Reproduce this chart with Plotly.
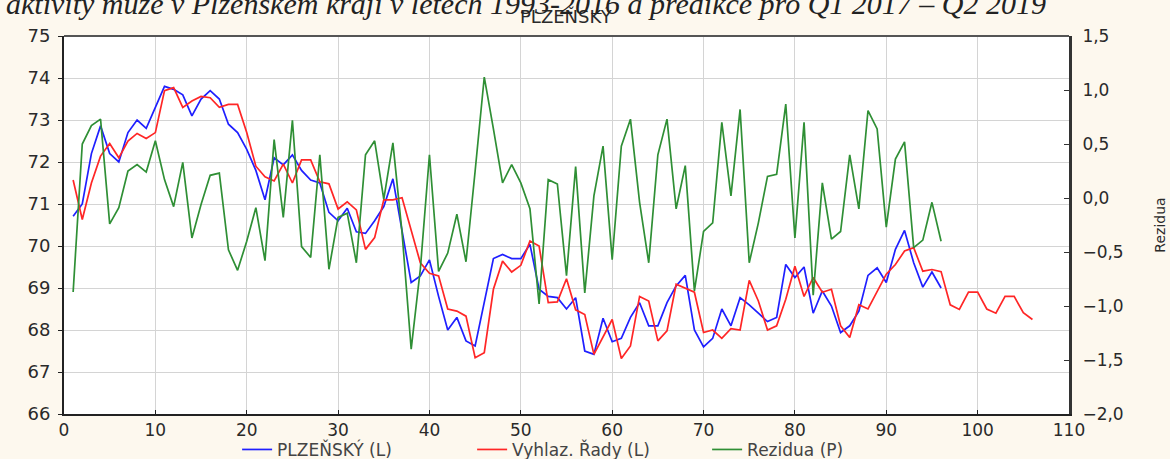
import plotly.graph_objects as go

# Participation rate, Plzeň region: observed series, smoothed series (with forecast) and residuals
t_obs = list(range(1, 97))
t_smooth = list(range(1, 107))

plzensky = [
    70.71, 71.0, 72.2, 72.86, 72.2, 72.0, 72.7, 73.0, 72.8, 73.3,
    73.8, 73.73, 73.6, 73.1, 73.5, 73.7, 73.5, 72.9, 72.7, 72.3,
    71.8, 71.1, 72.1, 71.93, 72.17, 71.8, 71.57, 71.5, 70.8, 70.6,
    70.9, 70.34, 70.3, 70.6, 70.94, 71.6, 70.4, 69.13, 69.29, 69.67,
    68.8, 68.0, 68.3, 67.74, 67.62, 68.65, 69.7, 69.8, 69.7, 69.7,
    70.04, 68.97, 68.8, 68.77, 68.5, 68.77, 67.5, 67.42, 68.28, 67.72,
    67.8, 68.3, 68.65, 68.1, 68.1, 68.65, 69.05, 69.3, 68.0, 67.6,
    67.8, 68.5, 68.1, 68.77, 68.6, 68.4, 68.2, 68.3, 69.56, 69.25,
    69.5, 68.4, 68.93, 68.57, 67.94, 68.1, 68.45, 69.3, 69.48, 69.13,
    69.92, 70.37, 69.6, 69.02, 69.38, 69.0,
]

vyhlazene = [
    71.57, 70.63, 71.5, 72.14, 72.44, 72.1, 72.5, 72.68, 72.56, 72.7,
    73.7, 73.77, 73.3, 73.45, 73.56, 73.53, 73.3, 73.37, 73.37, 72.7,
    71.9, 71.65, 71.55, 71.95, 71.5, 72.05, 72.05, 71.53, 71.48, 70.88,
    71.05, 70.86, 69.92, 70.2, 71.1, 71.1, 71.15, 70.4, 69.6, 69.35,
    69.29, 68.5, 68.45, 68.33, 67.34, 67.46, 68.97, 69.64, 69.38, 69.54,
    70.12, 70.0, 68.65, 68.67, 69.22, 68.48, 68.37, 67.42, 67.82, 68.25,
    67.32, 67.62, 68.8, 68.69, 67.74, 67.98, 69.09, 69.0, 68.9, 67.94,
    68.0, 67.8, 68.03, 68.0, 69.18, 68.69, 68.0, 68.1, 68.73, 69.52,
    68.8, 69.25, 68.9, 68.97, 68.1, 67.82, 68.6, 68.5, 68.9, 69.33,
    69.56, 69.88, 69.96, 69.4, 69.44, 69.39, 68.6, 68.49, 68.9, 68.9,
    68.5, 68.4, 68.8, 68.8, 68.41, 68.25,
]

rezidua = [
    -0.87, 0.5, 0.67, 0.73, -0.24, -0.09, 0.25, 0.31, 0.24, 0.53,
    0.17, -0.08, 0.33, -0.37, -0.06, 0.21, 0.23, -0.48, -0.67, -0.4,
    -0.09, -0.58, 0.54, -0.18, 0.72, -0.45, -0.55, 0.4, -0.66, -0.18,
    -0.14, -0.6, 0.4, 0.53, -0.01, 0.51, -0.32, -1.4, -0.66, 0.4,
    -0.68, -0.51, -0.15, -0.59, 0.25, 1.12, 0.64, 0.14, 0.31, 0.14,
    -0.1, -0.98, 0.17, 0.13, -0.72, 0.29, -0.88, 0.02, 0.48, -0.57,
    0.48, 0.73, -0.04, -0.6, 0.4, 0.73, -0.1, 0.3, -0.86, -0.31,
    -0.23, 0.7, 0.02, 0.82, -0.6, -0.23, 0.2, 0.22, 0.87, -0.37,
    0.7, -0.9, 0.14, -0.38, -0.31, 0.4, -0.1, 0.81, 0.64, -0.27,
    0.36, 0.52, -0.46, -0.39, -0.04, -0.4,
]

left_ticks = list(range(66, 76))
right_ticks = [-2.0, -1.5, -1.0, -0.5, 0.0, 0.5, 1.0, 1.5]
x_ticks = list(range(0, 111, 10))

FONT = "DejaVu Sans"
TXT = "#2a2a2a"
TICKFONT = dict(family=FONT, size=17, color=TXT)

fig = go.Figure()
fig.add_trace(go.Scatter(
    x=t_obs, y=plzensky, mode="lines", name="PLZEŇSKÝ (L)",
    line=dict(color="#1f1fff", width=1.7),
))
fig.add_trace(go.Scatter(
    x=t_smooth, y=vyhlazene, mode="lines", name="Vyhlaz. Řady (L)",
    line=dict(color="#ff2626", width=1.7),
))
fig.add_trace(go.Scatter(
    x=t_obs, y=rezidua, mode="lines", name="Rezidua (P)", yaxis="y2",
    line=dict(color="#2f8f35", width=1.7),
))

fig.update_layout(
    width=1170, height=459,
    margin=dict(l=64, r=101, t=36, b=45, autoexpand=False),
    paper_bgcolor="#fdf8ee",
    plot_bgcolor="#ffffff",
    separators=", ",
    font=dict(family=FONT, size=16, color=TXT),
    showlegend=True,
    legend=dict(
        orientation="h", x=0.523, xanchor="center", y=-0.095, yanchor="middle",
        bgcolor="rgba(0,0,0,0)", font=dict(family=FONT, size=17, color="#444444"),
        tracegroupgap=0, entrywidth=190, entrywidthmode="pixels",
    ),
    xaxis=dict(
        range=[0, 110], tickvals=x_ticks, showgrid=True, gridcolor="#d4d4d4",
        gridwidth=1, zeroline=False, showline=True, linecolor="#222222",
        linewidth=2, mirror=False, ticks="inside", ticklen=4, tickcolor="#222222",
        tickfont=TICKFONT, ticklabelstandoff=0,
    ),
    yaxis=dict(
        range=[66, 75], tickvals=left_ticks, showgrid=True, gridcolor="#d4d4d4",
        gridwidth=1, zeroline=False, showline=True, linecolor="#222222",
        linewidth=2, ticks="outside", ticklen=4, tickcolor="#222222",
        tickfont=dict(family=FONT, size=18, color=TXT), ticklabelstandoff=4,
    ),
    yaxis2=dict(
        range=[-2.0, 1.5], tickvals=right_ticks, tickformat=".1f",
        overlaying="y", side="right", showgrid=False, zeroline=False,
        showline=True, linecolor="#333333", linewidth=3, ticks="inside",
        ticklen=5, tickcolor="#333333", ticklabelstandoff=7,
        tickfont=TICKFONT,
        title=dict(text="Rezidua", font=dict(family=FONT, size=14, color=TXT),
                   standoff=33),
    ),
    shapes=[dict(type="line", xref="paper", yref="paper", x0=0, x1=1, y0=1, y1=1,
                 line=dict(color="#555555", width=2))],
    annotations=[
        dict(text="PLZEŇSKÝ", xref="paper", yref="paper", x=0.5, y=1,
             yshift=20, xanchor="center", yanchor="middle", showarrow=False,
             font=dict(family=FONT, size=18, color=TXT)),
        dict(text="<i>aktivity muže v Plzeňském kraji v letech 1993-2016 a predikce pro Q1 2017 – Q2 2019</i>",
             xref="paper", yref="paper", x=0, xshift=-60, y=1, yshift=33,
             xanchor="left", yanchor="middle", showarrow=False,
             font=dict(family="Liberation Serif", size=30, color="#222222")),
    ],
)

fig.write_html("out.html")
